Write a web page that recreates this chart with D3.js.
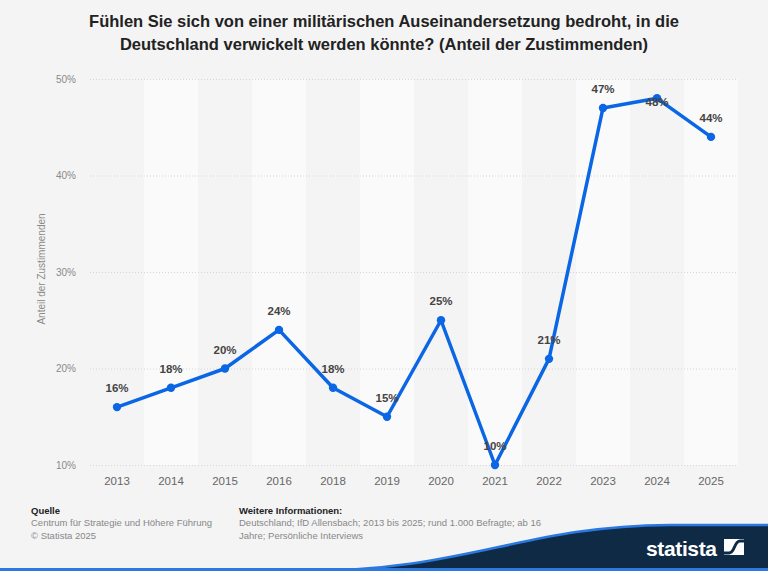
<!DOCTYPE html>
<html>
<head>
<meta charset="utf-8">
<script src="https://cdn.jsdelivr.net/npm/d3@7"></script>
<style>
  html, body { margin: 0; padding: 0; background: #f4f4f4; }
  svg { display: block; font-family: "Liberation Sans", Arial, sans-serif; }
</style>
</head>
<body>
<svg id="chart" width="768" height="571"></svg>
<script>
// data
const years = ['2013', '2014', '2015', '2016', '2018', '2019', '2020', '2021', '2022', '2023', '2024', '2025'];
const shares = [16, 18, 20, 24, 18, 15, 25, 10, 21, 47, 48, 44];
const yTicks = [10, 20, 30, 40, 50];

const titleLines = [
    'Fühlen Sie sich von einer militärischen Auseinandersetzung bedroht, in die',
    'Deutschland verwickelt werden könnte? (Anteil der Zustimmenden)'
];
const sourceLines = ['Centrum für Strategie und Höhere Führung', '© Statista 2025'];
const infoLines = [
    'Deutschland; IfD Allensbach; 2013 bis 2025; rund 1.000 Befragte; ab 16',
    'Jahre; Persönliche Interviews'
];

const W = 768, H = 571;
const margin = { top: 79, right: 30, bottom: 106, left: 90 };
const blue = '#0a66e4';

const svg = d3.select('#chart');

svg.append('rect')
    .attr('width', W).attr('height', H)
    .attr('fill', '#f4f4f4');

// title
svg.append('text')
    .attr('x', W / 2)
    .attr('y', 27)
    .attr('text-anchor', 'middle')
    .attr('font-size', 16.5)
    .attr('font-weight', 'bold')
    .attr('fill', '#222')
    .selectAll('tspan')
    .data(titleLines)
    .join('tspan')
    .attr('x', W / 2)
    .attr('dy', (d, i) => i === 0 ? 0 : 23)
    .text(d => d);

// scales
let x = d3.scaleBand()
    .domain(years)
    .range([margin.left, W - margin.right])
    .padding(0);

let y = d3.scaleLinear()
    .domain([10, 50])
    .range([H - margin.bottom, margin.top]);

// alternating column bands
svg.append('g')
    .selectAll('rect')
    .data(years.filter((d, i) => i % 2 === 1))
    .join('rect')
    .attr('x', d => x(d))
    .attr('y', margin.top)
    .attr('width', x.bandwidth())
    .attr('height', y(10) - margin.top)
    .attr('fill', '#fafafa');

// y axis with dotted gridlines
const yAxis = svg.append('g')
    .attr('transform', `translate(${margin.left},0)`)
    .call(d3.axisLeft(y)
        .tickValues(yTicks)
        .tickFormat(d => d + '%')
        .tickSize(-(W - margin.left - margin.right))
        .tickPadding(14));

yAxis.select('.domain').remove();
yAxis.selectAll('.tick line')
    .attr('stroke', '#d6d6d6')
    .attr('stroke-dasharray', '1,2');
yAxis.selectAll('.tick text')
    .attr('fill', '#8a8a8a')
    .attr('font-size', 10)
    .attr('font-family', '"Liberation Sans", Arial, sans-serif');

// x axis
const xAxis = svg.append('g')
    .attr('transform', `translate(0,${y(10)})`)
    .call(d3.axisBottom(x).tickSize(0).tickPadding(12));

xAxis.select('.domain').remove();
xAxis.selectAll('.tick text')
    .attr('fill', '#666')
    .attr('font-size', 11.5)
    .attr('font-family', '"Liberation Sans", Arial, sans-serif');

// y axis title
svg.append('text')
    .attr('transform', `translate(45,${(y(10) + y(50)) / 2 - 3}) rotate(-90)`)
    .attr('text-anchor', 'middle')
    .attr('font-size', 10)
    .attr('fill', '#8a8a8a')
    .text('Anteil der Zustimmenden');

// the line
const points = years.map((yr, i) => ({ year: yr, value: shares[i] }));

const line = d3.line()
    .x(d => x(d.year) + x.bandwidth() / 2)
    .y(d => y(d.value));

svg.append('path')
    .datum(points)
    .attr('d', line)
    .attr('fill', 'none')
    .attr('stroke', blue)
    .attr('stroke-width', 3.5)
    .attr('stroke-linejoin', 'round');

svg.append('g')
    .selectAll('circle')
    .data(points)
    .join('circle')
    .attr('cx', d => x(d.year) + x.bandwidth() / 2)
    .attr('cy', d => y(d.value))
    .attr('r', 4.2)
    .attr('fill', blue);

// value labels, pushed under the point when too close to the top
svg.append('g')
    .selectAll('text')
    .data(points)
    .join('text')
    .attr('x', d => x(d.year) + x.bandwidth() / 2)
    .attr('y', d => {
        let ly = y(d.value) - 15;
        if (ly - 12 < margin.top) ly = y(d.value) + 8;
        return ly;
    })
    .attr('text-anchor', 'middle')
    .attr('font-size', 11.5)
    .attr('font-weight', 'bold')
    .attr('fill', '#444')
    .text(d => d.value + '%');

// footer
const foot = svg.append('g').attr('font-size', 9.5);

foot.append('text')
    .attr('x', 31).attr('y', 514)
    .attr('font-weight', 'bold')
    .attr('fill', '#222')
    .text('Quelle');

foot.append('g')
    .selectAll('text')
    .data(sourceLines)
    .join('text')
    .attr('x', 31)
    .attr('y', (d, i) => 526 + i * 13)
    .attr('fill', '#888')
    .text(d => d);

foot.append('text')
    .attr('x', 239).attr('y', 514)
    .attr('font-weight', 'bold')
    .attr('fill', '#222')
    .text('Weitere Informationen:');

foot.append('g')
    .selectAll('text')
    .data(infoLines)
    .join('text')
    .attr('x', 239)
    .attr('y', (d, i) => 526 + i * 13)
    .attr('fill', '#888')
    .text(d => d);

// statista banner
svg.append('path')
    .attr('d', 'M 300 571 C 470 571, 520 526, 670 525 L 768 525 L 768 571 Z')
    .attr('fill', '#0f2a45');

svg.append('path')
    .attr('d', 'M 300 571 C 470 571, 520 526, 670 525 L 768 525')
    .attr('fill', 'none')
    .attr('stroke', '#2a78e0')
    .attr('stroke-width', 2.5);

svg.append('rect')
    .attr('x', 0).attr('y', 568)
    .attr('width', W).attr('height', 3)
    .attr('fill', '#2a78e0');

svg.append('text')
    .attr('x', 646).attr('y', 556)
    .attr('font-size', 21)
    .attr('font-weight', 'bold')
    .attr('fill', '#fff')
    .attr('textLength', 71)
    .text('statista');

const logo = svg.append('g').attr('transform', 'translate(724,539)');
logo.append('rect')
    .attr('width', 20).attr('height', 16)
    .attr('fill', '#fff');
logo.append('path')
    .attr('d', 'M -1 14 L 5 14 C 11 14, 10 2, 16 2 L 21 2')
    .attr('fill', 'none')
    .attr('stroke', '#0f2a45')
    .attr('stroke-width', 3);
</script>
</body>
</html>
